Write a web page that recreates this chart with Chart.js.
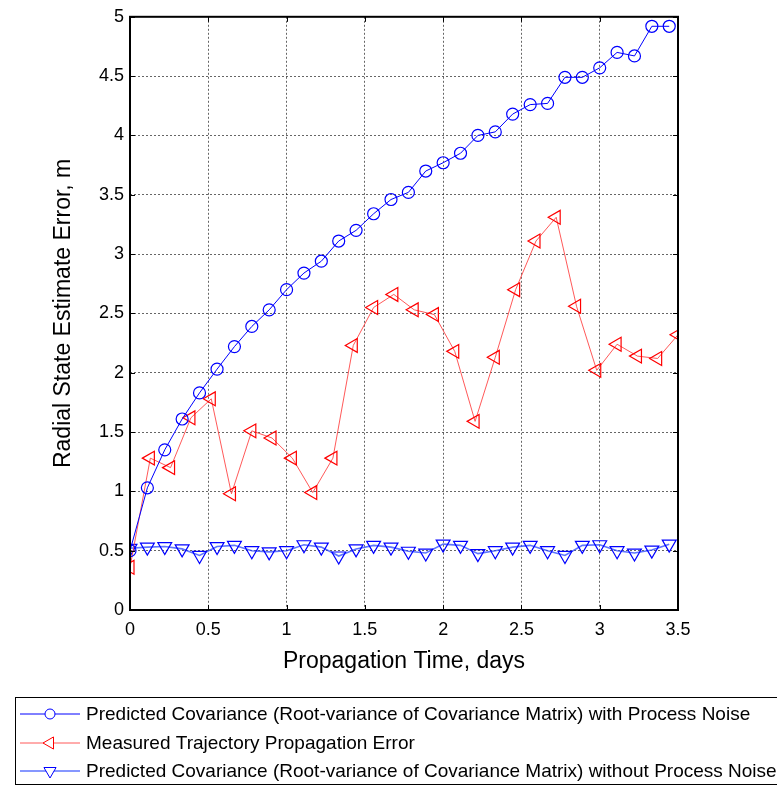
<!DOCTYPE html>
<html>
<head>
<meta charset="utf-8">
<script src="https://cdn.jsdelivr.net/npm/chart.js@4.4.1/dist/chart.umd.min.js"></script>
<style>
  html, body { margin: 0; padding: 0; background: #fff; }
  #wrap { width: 777px; height: 787px; }
</style>
</head>
<body>
<div id="wrap"><canvas id="chart" width="777" height="787"></canvas></div>
<script>
// propagation time (days) for the covariance series
const covDays = [0, 0.111, 0.222, 0.333, 0.444, 0.556, 0.667, 0.778, 0.889, 1.0,
  1.111, 1.222, 1.333, 1.444, 1.556, 1.667, 1.778, 1.889, 2.0, 2.111,
  2.222, 2.333, 2.444, 2.556, 2.667, 2.778, 2.889, 3.0, 3.111, 3.222,
  3.333, 3.444];
// propagation time (days) for the measured error series
const errDays = [0, 0.13, 0.259, 0.389, 0.519, 0.648, 0.778, 0.907, 1.037, 1.167,
  1.296, 1.426, 1.556, 1.685, 1.815, 1.944, 2.074, 2.204, 2.333, 2.463,
  2.593, 2.722, 2.852, 2.981, 3.111, 3.241, 3.37, 3.5];

const withNoise = [0.5, 1.03, 1.35, 1.61, 1.83, 2.03, 2.22, 2.39, 2.53, 2.70,
  2.84, 2.94, 3.11, 3.20, 3.34, 3.46, 3.52, 3.70, 3.77, 3.85,
  4.00, 4.03, 4.18, 4.26, 4.27, 4.49, 4.49, 4.57, 4.70, 4.67,
  4.92, 4.92];
const measured = [0.36, 1.28, 1.20, 1.62, 1.78, 0.98, 1.51, 1.45, 1.28, 0.99,
  1.28, 2.23, 2.55, 2.66, 2.53, 2.49, 2.18, 1.59, 2.13, 2.70,
  3.11, 3.31, 2.56, 2.02, 2.24, 2.14, 2.12, 2.32];
const withoutNoise = [0.52, 0.53, 0.535, 0.515, 0.46, 0.535, 0.545, 0.50, 0.49, 0.50,
  0.55, 0.53, 0.455, 0.515, 0.545, 0.53, 0.495, 0.48, 0.555, 0.545,
  0.475, 0.50, 0.53, 0.545, 0.50, 0.46, 0.545, 0.55, 0.50, 0.48,
  0.505, 0.555];

const seriesLabels = [
  'Predicted Covariance (Root-variance of Covariance Matrix) with Process Noise',
  'Measured Trajectory Propagation Error',
  'Predicted Covariance (Root-variance of Covariance Matrix) without Process Noise'
];
const xTicks = [0, 0.5, 1, 1.5, 2, 2.5, 3, 3.5];
const yTicks = [0, 0.5, 1, 1.5, 2, 2.5, 3, 3.5, 4, 4.5, 5];

const FONT = "'Liberation Sans', Arial, sans-serif";

function toPoints(xs, ys) {
  return ys.map((y, i) => ({ x: xs[i], y: y }));
}

// box around the axes with inward ticks on all four sides
const frame = {
  id: 'frame',
  afterDatasetsDraw(chart) {
    const { ctx, chartArea: a, scales } = chart;
    ctx.save();
    ctx.strokeStyle = '#000';
    ctx.lineWidth = 1;
    ctx.beginPath();
    xTicks.forEach(v => {
      const px = Math.round(scales.x.getPixelForValue(v)) + 0.5;
      ctx.moveTo(px, a.bottom); ctx.lineTo(px, a.bottom - 5);
      ctx.moveTo(px, a.top); ctx.lineTo(px, a.top + 5);
    });
    yTicks.forEach(v => {
      const py = Math.round(scales.y.getPixelForValue(v)) + 0.5;
      ctx.moveTo(a.left, py); ctx.lineTo(a.left + 5, py);
      ctx.moveTo(a.right, py); ctx.lineTo(a.right - 5, py);
    });
    ctx.stroke();
    ctx.lineWidth = 2;
    ctx.strokeRect(a.left, a.top, a.right - a.left, a.bottom - a.top);
    ctx.restore();
  }
};

// matlab style legend box under the plot
const boxLegend = {
  id: 'boxLegend',
  afterDraw(chart) {
    const { ctx } = chart;
    const rows = [714, 743, 771];
    ctx.save();
    ctx.fillStyle = '#fff';
    ctx.fillRect(15, 697, 762, 88);
    ctx.strokeStyle = '#000';
    ctx.lineWidth = 1;
    ctx.strokeRect(15.5, 697.5, 775, 87);
    chart.data.datasets.forEach((ds, i) => {
      const y = rows[i];
      ctx.strokeStyle = ds.borderColor;
      ctx.lineWidth = ds.borderWidth;
      ctx.beginPath();
      ctx.moveTo(20, y); ctx.lineTo(80, y);
      ctx.stroke();
      ctx.fillStyle = '#fff';
      ctx.strokeStyle = ds.pointBorderColor;
      ctx.lineWidth = 1;
      Chart.helpers.drawPoint(ctx, {
        pointStyle: ds.pointStyle,
        rotation: ds.pointRotation,
        radius: ds.pointRadius - 1,
        borderWidth: 1
      }, 50, y);
      ctx.fillStyle = '#000';
      ctx.font = '19px ' + FONT;
      ctx.textBaseline = 'middle';
      ctx.fillText(ds.label, 86, y + 1);
    });
    ctx.restore();
  }
};

new Chart(document.getElementById('chart').getContext('2d'), {
  type: 'line',
  data: {
    datasets: [{
      label: seriesLabels[0],
      data: toPoints(covDays, withNoise),
      borderColor: '#0000ff',
      borderWidth: 1,
      pointStyle: 'circle',
      pointRotation: 0,
      pointRadius: 6,
      pointBorderColor: '#0000ff',
      pointBackgroundColor: 'rgba(0,0,0,0)',
      pointBorderWidth: 1.2
    }, {
      label: seriesLabels[1],
      data: toPoints(errDays, measured),
      borderColor: 'rgba(255,60,60,0.85)',
      borderWidth: 1,
      pointStyle: 'triangle',
      pointRotation: -90,
      pointRadius: 8,
      pointBorderColor: '#ff0000',
      pointBackgroundColor: 'rgba(0,0,0,0)',
      pointBorderWidth: 1.2
    }, {
      label: seriesLabels[2],
      data: toPoints(covDays, withoutNoise),
      borderColor: 'rgba(40,70,255,0.75)',
      borderWidth: 1.6,
      pointStyle: 'triangle',
      pointRotation: 180,
      pointRadius: 8,
      pointBorderColor: '#0000ff',
      pointBackgroundColor: 'rgba(0,0,0,0)',
      pointBorderWidth: 1.2
    }]
  },
  options: {
    responsive: false,
    animation: false,
    devicePixelRatio: 1,
    layout: { padding: { left: 40, top: 11, right: 99, bottom: 112 } },
    plugins: {
      legend: { display: false },
      tooltip: { enabled: false }
    },
    elements: { line: { tension: 0 } },
    scales: {
      x: {
        type: 'linear',
        min: 0,
        max: 3.5,
        afterFit(scale) { scale.height = 65; },
        afterBuildTicks(scale) { scale.ticks = xTicks.map(v => ({ value: v })); },
        ticks: {
          color: '#000',
          padding: 9,
          maxRotation: 0,
          font: { family: FONT, size: 18 },
          callback: v => String(v)
        },
        grid: { color: 'rgba(0,0,0,0.6)', drawTicks: false },
        border: { display: false, dash: [2, 2] },
        title: {
          display: true,
          text: 'Propagation Time, days',
          color: '#000',
          font: { family: FONT, size: 23 },
          padding: { top: 0, bottom: 0 }
        }
      },
      y: {
        type: 'linear',
        min: 0,
        max: 5,
        afterFit(scale) { scale.width = 90; },
        afterBuildTicks(scale) { scale.ticks = yTicks.map(v => ({ value: v })); },
        ticks: {
          color: '#000',
          padding: 6,
          font: { family: FONT, size: 18 },
          callback: v => String(v)
        },
        grid: { color: 'rgba(0,0,0,0.6)', drawTicks: false },
        border: { display: false, dash: [2, 2] },
        title: {
          display: true,
          text: 'Radial State Estimate Error, m',
          color: '#000',
          font: { family: FONT, size: 23 },
          padding: { top: 10, bottom: 0 }
        }
      }
    }
  },
  plugins: [frame, boxLegend]
});
</script>
</body>
</html>
